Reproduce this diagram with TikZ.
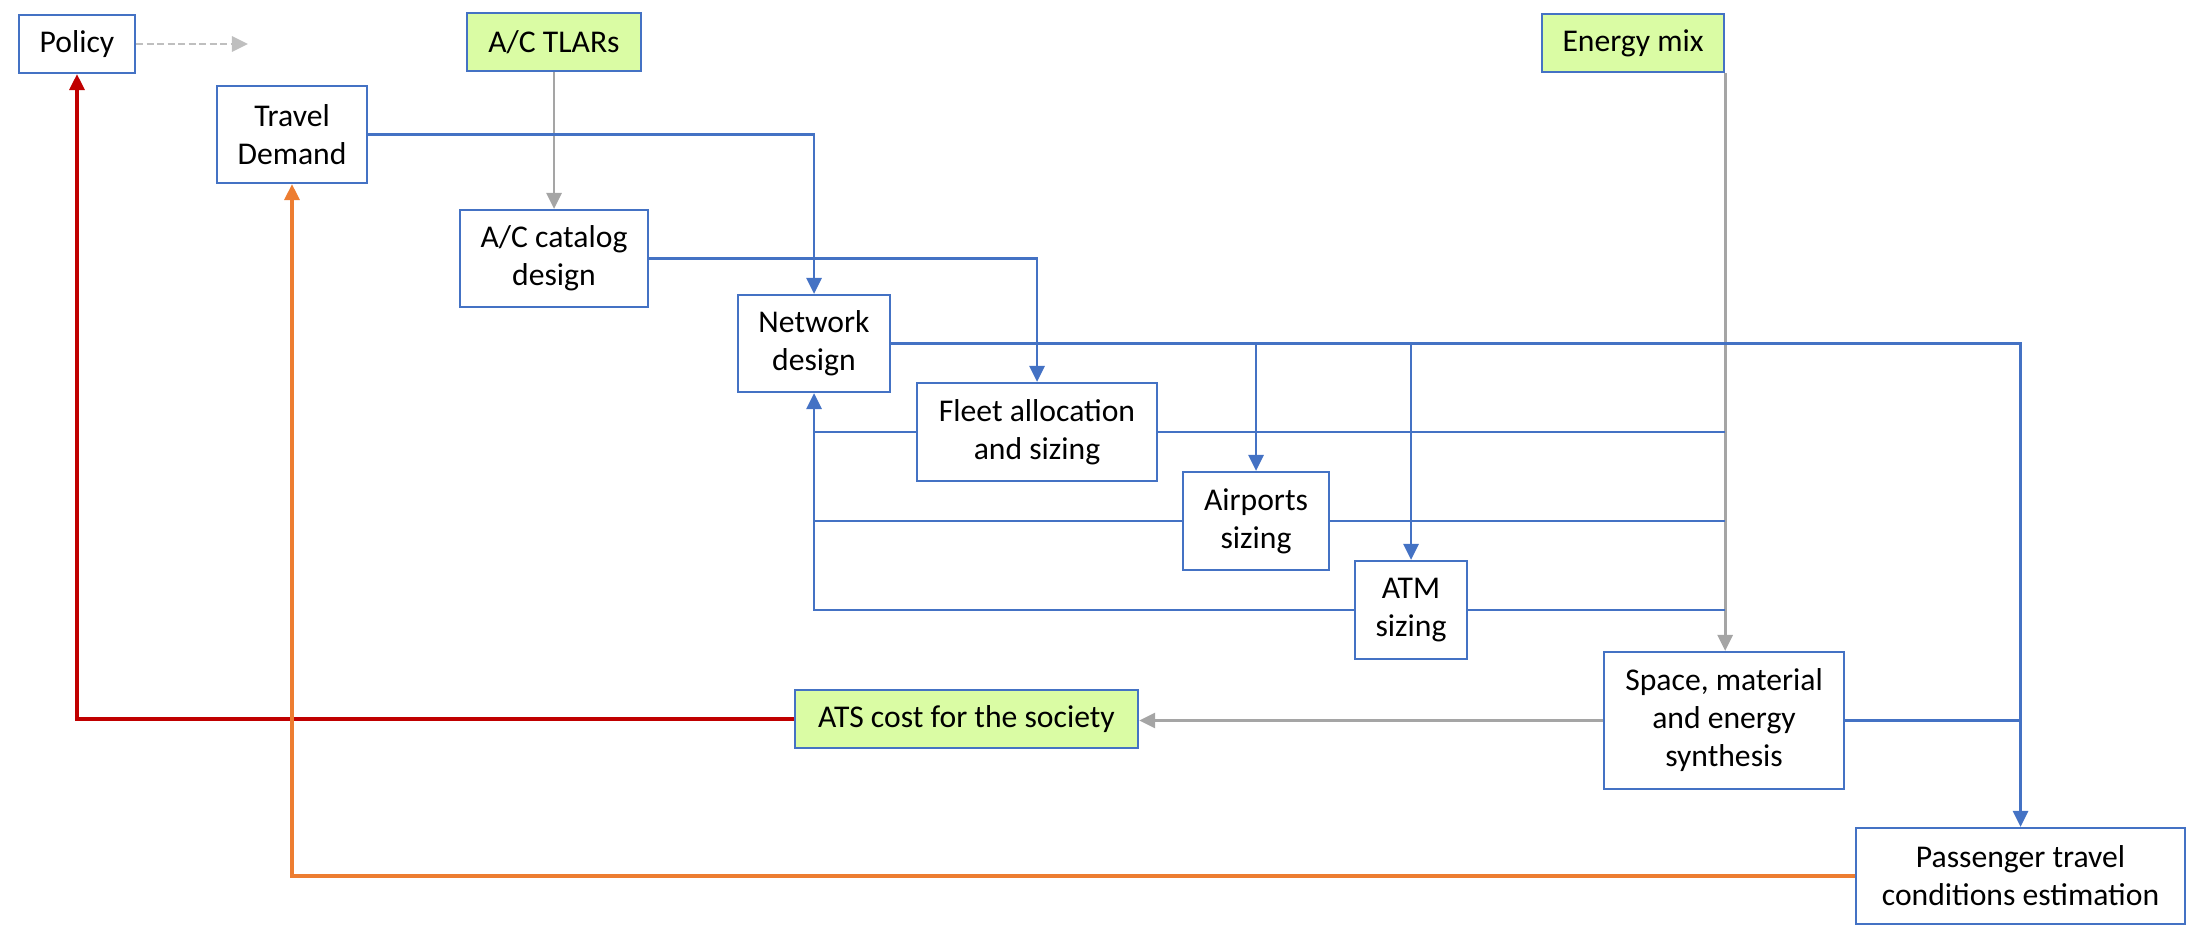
\documentclass[tikz,border=0pt]{standalone}
\usepackage{fontspec}
\setmainfont{Carlito}
\usetikzlibrary{arrows.meta}
\definecolor{boxblue}{RGB}{68,114,196}
\definecolor{inputgreen}{RGB}{218,252,164}
\definecolor{flowgrey}{RGB}{165,165,165}
\definecolor{lightgrey}{RGB}{191,191,191}
\definecolor{costred}{RGB}{192,0,0}
\definecolor{loadorange}{RGB}{237,125,49}

\begin{document}
\begin{tikzpicture}[x=0.01cm, y=-0.01cm, >={Triangle[length=0.16cm, width=0.15cm]},
  box/.style={draw=boxblue, line width=0.6pt, rectangle, align=center, inner sep=0pt, font=\fontsize{9}{10.8}\selectfont},
  inbox/.style={box, fill=inputgreen},
  link/.style={draw=boxblue, line width=0.8pt},
  feed/.style={draw=flowgrey, line width=0.8pt}]
			\useasboundingbox (0,0) rectangle (2189,930);
			% inputs
			\node (policy) [box, minimum width=1.16cm, minimum height=0.58cm] at (77,44) {Policy};
			\node (tlars) [inbox, minimum width=1.74cm, minimum height=0.58cm] at (554,42) {A/C TLARs};
			\node (energy) [inbox, minimum width=1.82cm, minimum height=0.58cm] at (1633,43) {Energy mix};
			% models
			\node (demand) [box, minimum width=1.50cm, minimum height=0.97cm] at (292,134.5) {Travel\\Demand};
			\node (catalog) [box, minimum width=1.88cm, minimum height=0.97cm] at (554,258.5) {A/C catalog\\design};
			\node (network) [box, minimum width=1.52cm, minimum height=0.97cm] at (814,343.5) {Network\\design};
			\node (fleet) [box, minimum width=2.40cm, minimum height=0.98cm] at (1037,432) {Fleet allocation\\and sizing};
			\node (airports) [box, minimum width=1.46cm, minimum height=0.98cm] at (1256,521) {Airports\\sizing};
			\node (atm) [box, minimum width=1.12cm, minimum height=0.98cm] at (1411,610) {ATM\\sizing};
			\node (space) [box, minimum width=2.40cm, minimum height=1.37cm] at (1724,720.5) {Space, material\\and energy\\synthesis};
			\node (ats) [inbox, minimum width=3.43cm, minimum height=0.58cm] at (966.5,719) {ATS cost for the society};
			\node (passenger) [box, minimum width=3.29cm, minimum height=0.96cm] at (2020.5,876) {Passenger travel\\conditions estimation};
			% free ends and branch points
			\coordinate (policyout) at (248,44);
			\coordinate (aptop) at (airports.north |- network.east);
			\coordinate (atmtop) at (atm.north |- network.east);
			\coordinate (mixF) at (energy.south east |- fleet.east);
			\coordinate (mixA) at (energy.south east |- airports.east);
			\coordinate (mixT) at (energy.south east |- atm.east);
			% grey flows
			\draw[->, draw=lightgrey, line width=0.8pt, dash pattern=on 0.07cm off 0.035cm] (policy.east) -- (policyout);
			\draw[->, feed] (tlars) -- (catalog);
			\draw[->, feed] (energy.south east) -- (energy.south east |- space.north);
			\draw[->, feed] (space.west) -- (space.west -| ats.east);
			% blue flows
			\draw[->, link] (demand.east) -| (network.north);
			\draw[->, link] (catalog.east) -| (fleet.north);
			\draw[->, link] (network.east) -| (passenger.north);
			\draw[->, link] (aptop) -- (airports.north);
			\draw[->, link] (atmtop) -- (atm.north);
			\draw[link] (mixF) -- (fleet.east);
			\draw[link] (mixA) -- (airports.east);
			\draw[link] (mixT) -- (atm.east);
			\draw[link] (fleet.west) -- (fleet.west -| network.south);
			\draw[link] (airports.west) -- (airports.west -| network.south);
			\draw[->, link] (atm.west) -| (network.south);
			\draw[link] (space.east) -- (space.east -| passenger.north);
			% feedback loops
			\draw[->, draw=costred, line width=0.9pt] (ats.west) -| (policy.south);
			\draw[->, draw=loadorange, line width=0.9pt] (passenger.west) -| (demand.south);
		\end{tikzpicture}
\end{document}
